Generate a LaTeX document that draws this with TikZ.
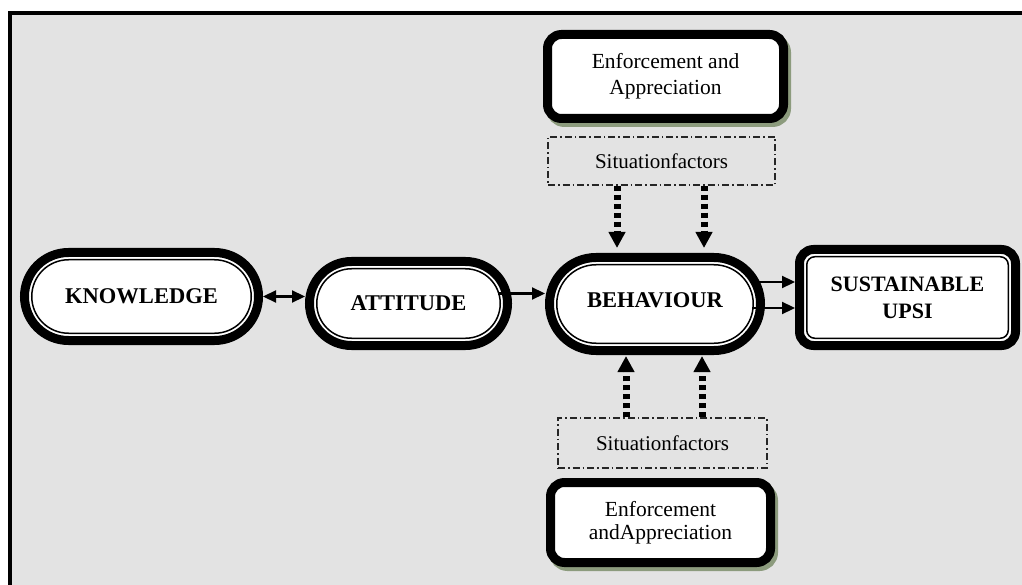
\documentclass[tikz,border=0pt]{standalone}
\usepackage{fontspec}
\setmainfont{Liberation Serif}
\usetikzlibrary{arrows.meta,shapes.misc}
\definecolor{bg}{RGB}{227,227,227}
\definecolor{shc}{RGB}{140,155,125}
\begin{document}
\begin{tikzpicture}[x=1pt,y=-1pt,
  stad/.style={rounded rectangle, draw=black, line width=9pt, fill=white, inner sep=0pt,
    font=\fontsize{22.5}{27}\selectfont\bfseries, align=center},
  stadin/.style={rounded rectangle, draw=black, line width=1.5pt, inner sep=0pt},
  rbox/.style={rectangle, rounded corners=14pt, draw=black, line width=9pt, fill=white, inner sep=0pt,
    font=\fontsize{22}{27}\selectfont\bfseries, align=center},
  rboxin/.style={rectangle, rounded corners=8pt, draw=black, line width=1.5pt, inner sep=0pt},
  ebox/.style={rectangle, rounded corners=14pt, draw=black, line width=9pt, fill=white, inner sep=0pt,
    font=\fontsize{21.5}{26}\selectfont, align=center,
    preaction={draw=shc, fill=shc, transform canvas={shift={(3pt,-4pt)}}}},
  sbox/.style={rectangle, draw=black!85, line width=1.3pt, dash pattern=on 7pt off 3pt on 1.5pt off 3pt,
    inner sep=0pt, font=\fontsize{21}{25}\selectfont},
  arr/.style={line width=2.2pt, -{Triangle[length=13pt,width=12pt]}},
  dblarr/.style={line width=2.2pt, {Triangle[length=13pt,width=12pt]}-{Triangle[length=13pt,width=12pt]}},
  darr/.style={line width=7pt, dash pattern=on 5pt off 4pt, -{Triangle[length=16pt,width=16pt]}}
]
\useasboundingbox (0,0) rectangle (1022,585);
\fill[white] (0,0) rectangle (1022,585);
\fill[bg] (10,13) rectangle (1030,590);
\draw[line width=4pt] (10,595) -- (10,13) -- (1030,13);

% main chain
\node[stad, minimum width=234pt, minimum height=88pt] (k) at (141.5,296.5) {KNOWLEDGE};
\node[stadin, minimum width=219.5pt, minimum height=73.5pt] (kin) at (k) {};
\node[stad, minimum width=198pt, minimum height=84pt] (a) at (408.5,303.5) {ATTITUDE};
\node[stadin, minimum width=183.5pt, minimum height=69.5pt] (ain) at (a) {};
\node[stad, minimum width=211pt, minimum height=93pt] (b) at (655,304) {\raisebox{8pt}{BEHAVIOUR}};
\node[stadin, minimum width=196.5pt, minimum height=78.5pt] (bin) at (b) {};
\node[rbox, minimum width=216pt, minimum height=96pt] (s) at (907.5,297.5) {SUSTAINABLE\\UPSI};
\node[rboxin, minimum width=201.5pt, minimum height=81.5pt] (sin) at (s) {};

% enforcement and situation boxes
\node[ebox, minimum width=236pt, minimum height=84pt] (te) at (665.5,76.5) {Enforcement and\\Appreciation};
\node[sbox, minimum width=227pt, minimum height=48pt] (ts) at (661.5,161) {Situationfactors};
\node[sbox, minimum width=209pt, minimum height=50pt] (bs) at (662.5,443) {Situationfactors};
\node[ebox, minimum width=220pt, minimum height=80pt] (be) at (660.5,522.5)
  {\raisebox{-3pt}{\begin{tabular}{@{}c@{}}Enforcement\\[-3pt]andAppreciation\end{tabular}}};

% connectors
\draw[dblarr] (k.east) -- (k.east -| a.west);
\coordinate (a1) at ([xshift=-14pt,yshift=10pt]a.east);
\draw[arr] (a1) -- (a1 -| b.west);
\coordinate (b1) at ([xshift=-13pt,yshift=22pt]b.east);
\coordinate (b2) at ([xshift=-13pt,yshift=-4pt]b.east);
\draw[arr] (b1) -- (b1 -| s.west);
\draw[arr] (b2) -- (b2 -| s.west);

\coordinate (t1) at ([xshift=-44.5pt]ts.south);
\coordinate (t2) at ([xshift=42.5pt]ts.south);
\draw[darr, shorten >=5pt] (t1) -- (t1 |- b.north);
\draw[darr, shorten >=5pt] (t2) -- (t2 |- b.north);
\coordinate (u1) at ([xshift=-36.5pt]bs.north);
\coordinate (u2) at ([xshift=39.5pt]bs.north);
\draw[darr, shorten >=1pt] (u1) -- (u1 |- b.south);
\draw[darr, shorten >=1pt] (u2) -- (u2 |- b.south);
\end{tikzpicture}
\end{document}
